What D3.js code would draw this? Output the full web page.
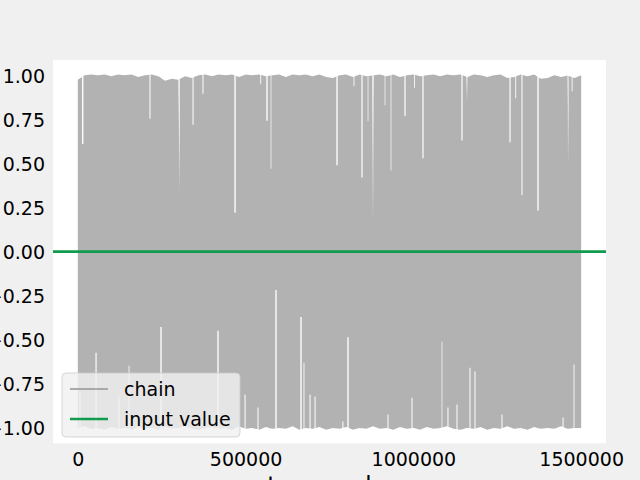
<!DOCTYPE html>
<html>
<head>
<meta charset="utf-8">
<script src="https://cdn.jsdelivr.net/npm/d3@7"></script>
<style>
  html, body { margin: 0; padding: 0; background: #f0f0f0; }
  svg { display: block; }
  text { font-family: "DejaVu Sans", sans-serif; }
</style>
</head>
<body>
<div id="chart"></div>
<script>
// ---------------- data ----------------
const seriesNames = ["chain", "input value"];
const xTicks = [0, 500000, 1000000, 1500000];
const yTicks = [1.0, 0.75, 0.5, 0.25, 0.0, -0.25, -0.5, -0.75, -1.0];
const xLabel = "step number";
const inputValue = 0.0;

// envelope of the chain: bins every 20000 steps (0 .. 1,500,000)
const binStep = 20000;
const chainHigh = [
  0.975, 1.0, 1.005, 1.0, 1.005, 0.995, 1.005, 1.0, 1.005, 0.99,
  1.0, 1.005, 0.995, 0.97, 0.98, 0.975, 0.995, 0.985, 1.0, 1.005,
  0.995, 1.005, 1.0, 1.005, 0.99, 1.005, 1.0, 1.005, 0.995, 1.0,
  1.005, 0.99, 1.005, 1.0, 1.005, 0.995, 1.005, 0.99, 0.985, 1.0,
  1.005, 0.99, 1.005, 0.995, 1.0, 1.005, 0.995, 1.005, 0.99, 1.0,
  1.005, 0.995, 1.0, 1.005, 0.995, 1.005, 1.0, 1.005, 0.99, 1.005,
  1.0, 0.99, 1.0, 1.005, 0.985, 0.99, 1.005, 0.995, 1.005, 0.98,
  0.985, 1.0, 0.99, 1.0, 0.985, 1.0
];
const chainLow = [
  -1.0, -0.99, -1.005, -1.0, -1.01, -0.995, -1.005, -1.0, -1.01, -0.995,
  -1.005, -1.0, -1.01, -0.995, -1.005, -1.0, -0.99, -1.005, -1.01, -1.0,
  -0.995, -1.005, -1.0, -1.01, -0.99, -1.005, -1.0, -1.01, -0.995, -1.005,
  -1.0, -1.005, -0.99, -1.01, -1.0, -1.005, -0.995, -1.01, -1.0, -1.005,
  -0.995, -1.01, -1.0, -1.005, -0.99, -1.005, -1.0, -1.01, -0.995, -1.005,
  -1.0, -1.01, -0.995, -1.005, -1.0, -0.99, -1.005, -1.01, -1.0, -1.005,
  -0.995, -1.01, -1.0, -1.005, -0.99, -1.005, -1.0, -1.01, -0.995, -1.005,
  -1.0, -1.005, -0.99, -1.005, -1.0, -1.0
];

// stretches where the chain stayed below a level (white gaps from the top)
const topDipStep  = [14600, 215000, 301600, 343300, 373000, 468500, 545000, 563800, 575700,
                     772400, 823000, 846900, 864800, 879700, 915400, 933300, 975000, 1003000,
                     1028600, 1144800, 1159700, 1288000, 1305000, 1323600, 1371400, 1460800, 1473000];
const topDipLevel = [0.61, 0.754, 0.33, 0.72, 0.895, 0.22, 0.95, 0.743, 0.47,
                     0.49, 0.94, 0.42, 0.74, 0.16, 0.83, 0.46, 0.77, 0.93,
                     0.53, 0.63, 0.856, 0.62, 0.87, 0.32, 0.234, 0.49, 0.91];
const topDipSpan  = [4000, 3000, 4000, 3000, 3000, 4000, 2500, 4000, 2000,
                     4000, 2500, 3500, 2000, 4000, 2000, 2000, 3500, 2500,
                     3500, 3500, 3000, 3500, 2500, 3000, 4000, 3000, 2500];

// stretches where the chain stayed above a level (white gaps from the bottom)
const lowRiseStep  = [6600, 54300, 122800, 152600, 247900, 417800, 498300, 537000, 590600,
                      665100, 674000, 692000, 707000, 790000, 805200, 924300, 995800, 1085200,
                      1103100, 1130000, 1168700, 1183600, 1264000, 1446000, 1478700];
const lowRiseLevel = [-0.80, -0.573, -0.822, -0.647, -0.427, -0.449, -0.81, -0.884, -0.218,
                      -0.37, -0.63, -0.81, -0.822, -0.963, -0.486, -0.924, -0.828, -0.51,
                      -0.884, -0.867, -0.658, -0.68, -0.924, -0.94, -0.64];
const lowRiseSpan  = [3000, 3500, 3000, 2500, 4000, 4000, 3000, 3000, 4000,
                      4000, 2500, 3000, 3000, 3000, 4000, 3000, 3000, 2000,
                      3000, 3000, 3000, 3000, 3000, 3000, 2500];

// ---------------- layout ----------------
const W = 640, H = 480;
const plot = { left: 53, right: 606, top: 60, bottom: 443.3 };
const colors = { chain: "#b2b2b2", chainLegend: "#a9a9a9", input: "#119b4f" };

const svg = d3.select("#chart").append("svg")
  .attr("width", W).attr("height", H)
  .style("background", "#f0f0f0");

const x = d3.scaleLinear().domain([-74000, 1574000]).range([plot.left, plot.right]);
const y = d3.scaleLinear().domain([-1.087, 1.087]).range([plot.bottom, plot.top]);

svg.append("rect")
  .attr("x", plot.left).attr("y", plot.top)
  .attr("width", plot.right - plot.left).attr("height", plot.bottom - plot.top)
  .attr("fill", "#ffffff");

// build envelope points
const baseSteps = chainHigh.map((_, i) => i * binStep);
const hiAt = d3.scaleLinear().domain(baseSteps).range(chainHigh).clamp(true);
const loAt = d3.scaleLinear().domain(baseSteps).range(chainLow).clamp(true);

let pts = baseSteps.map((s, i) => ({ s, hi: chainHigh[i], lo: chainLow[i], k: 0 }));
topDipStep.forEach((s, i) => {
  const a = s - topDipSpan[i] / 2, b = s + topDipSpan[i] / 2;
  pts.push({ s: a, hi: hiAt(a), lo: loAt(a), k: 1 });
  pts.push({ s: a, hi: topDipLevel[i], lo: loAt(a), k: 2 });
  pts.push({ s: b, hi: topDipLevel[i], lo: loAt(b), k: 3 });
  pts.push({ s: b, hi: hiAt(b), lo: loAt(b), k: 4 });
});
lowRiseStep.forEach((s, i) => {
  const a = s - lowRiseSpan[i] / 2, b = s + lowRiseSpan[i] / 2;
  pts.push({ s: a, hi: hiAt(a), lo: loAt(a), k: 1 });
  pts.push({ s: a, hi: hiAt(a), lo: lowRiseLevel[i], k: 2 });
  pts.push({ s: b, hi: hiAt(b), lo: lowRiseLevel[i], k: 3 });
  pts.push({ s: b, hi: hiAt(b), lo: loAt(b), k: 4 });
});
pts.sort((p, q) => p.s - q.s || p.k - q.k);

const g = svg.append("g");

g.append("path")
  .datum(pts)
  .attr("fill", colors.chain)
  .attr("d", d3.area().x(d => x(d.s)).y0(d => y(d.lo)).y1(d => y(d.hi)));

// input value line (spans the full axes)
g.append("path")
  .datum(x.domain())
  .attr("fill", "none")
  .attr("stroke", colors.input)
  .attr("stroke-width", 2.7)
  .attr("d", d3.line().x(d => x(d)).y(() => y(inputValue)));

// axes
const yAxis = svg.append("g")
  .attr("transform", `translate(${plot.left},0)`)
  .call(d3.axisLeft(y).tickValues(yTicks).tickSize(0).tickPadding(8).tickFormat(d3.format(".2f")));
yAxis.select(".domain").remove();
yAxis.selectAll("text")
  .attr("font-size", 19).attr("font-family", "DejaVu Sans").attr("fill", "#000")
  .attr("dy", "0.37em");

const xAxis = svg.append("g")
  .attr("transform", `translate(0,${plot.bottom})`)
  .call(d3.axisBottom(x).tickValues(xTicks).tickSize(0).tickPadding(9.5).tickFormat(d3.format("d")));
xAxis.select(".domain").remove();
xAxis.selectAll("text")
  .attr("font-size", 19).attr("font-family", "DejaVu Sans").attr("fill", "#000");

svg.append("text")
  .attr("x", (plot.left + plot.right) / 2)
  .attr("y", 493)
  .attr("text-anchor", "middle")
  .attr("font-size", 23.3)
  .attr("fill", "#000")
  .text(xLabel);

// legend
const lg = svg.append("g");
lg.append("rect")
  .attr("x", 62).attr("y", 373).attr("width", 178).attr("height", 64)
  .attr("rx", 4).attr("ry", 4)
  .attr("fill", "#f0f0f0").attr("fill-opacity", 0.82)
  .attr("stroke", "#cccccc").attr("stroke-opacity", 0.8).attr("stroke-width", 1);
const legendColors = [colors.chainLegend, colors.input];
const legendWidths = [2.2, 2.7];
seriesNames.forEach((name, i) => {
  const yy = 389 + i * 30;
  lg.append("line")
    .attr("x1", 70).attr("x2", 108).attr("y1", yy).attr("y2", yy)
    .attr("stroke", legendColors[i]).attr("stroke-width", legendWidths[i]);
  lg.append("text")
    .attr("x", 124).attr("y", yy).attr("dy", "0.37em")
    .attr("font-size", 19).attr("fill", "#000")
    .text(name);
});
</script>
</body>
</html>
